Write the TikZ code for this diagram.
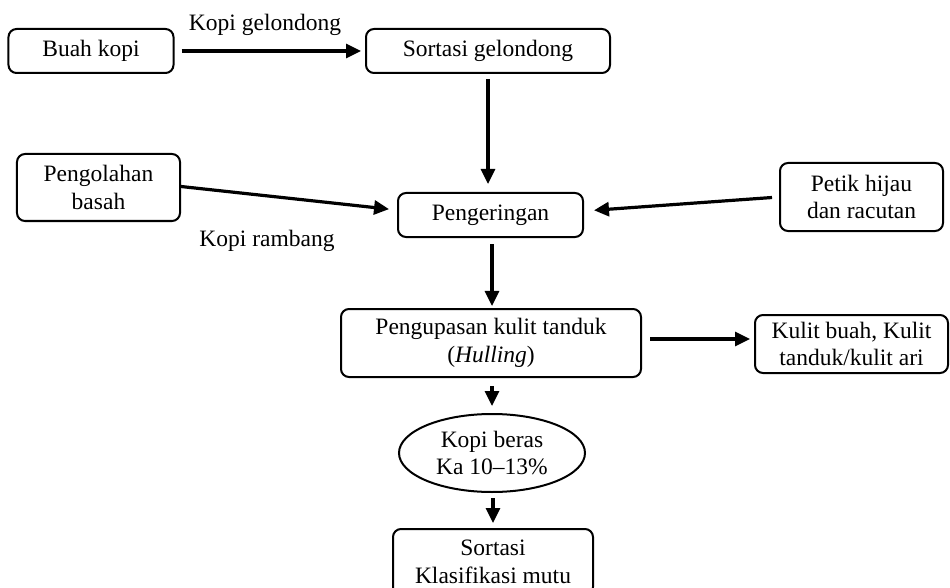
\documentclass[tikz,border=0pt]{standalone}
\usepackage{fontspec}
\setmainfont{Liberation Serif}
\usetikzlibrary{arrows.meta,shapes.geometric,calc}
\begin{document}
\begin{tikzpicture}[x=1bp,y=-1bp,
  every node/.style={font=\fontsize{23.5bp}{27.5bp}\selectfont, inner sep=0pt},
  box/.style={draw, line width=2bp, rounded corners=8bp, align=center, minimum width=#1},
  oval/.style={draw, line width=2bp, ellipse, align=center},
  lbl/.style={anchor=base},
  arr/.style={line width=3.2bp, -{Triangle[length=15bp,width=14bp]}}]
\clip (0,0) rectangle (950,588);
\node[box=165bp, minimum height=44bp] (buah) at (91,51) {Buah kopi};
\node[box=244bp, minimum height=44bp] (sortg) at (488,51) {Sortasi gelondong};
\node[box=163bp, minimum height=67bp] (olah) at (98.5,187.5) {Pengolahan\\basah};
\node[box=185bp, minimum height=44bp] (kering) at (490.5,215) {Pengeringan};
\node[box=163bp, minimum height=68bp] (petik) at (861.5,197) {Petik hijau\\dan racutan};
\node[box=300bp, minimum height=68bp] (kupas) at (491,343) {Pengupasan kulit tanduk\\(\textit{Hulling})};
\node[box=193bp, minimum height=58bp] (kulit) at (851.5,344) {Kulit buah, Kulit\\tanduk/kulit ari};
\node[oval, minimum width=186bp, minimum height=78bp] (beras) at (492,453) {Kopi beras\\Ka 10--13\%};
\node[box=200bp, minimum height=66bp] (mutu) at (493,562) {Sortasi\\Klasifikasi mutu};
\node[lbl] (l1) at (265,31) {Kopi gelondong};
\node[lbl] (l2) at (267,247) {Kopi rambang};
\draw[arr, shorten <=7bp, shorten >=4bp] (buah.east) -- (sortg.west);
\draw[arr, shorten <=5bp, shorten >=8bp] (sortg.south) -- (sortg.south |- kering.north);
\draw[arr, shorten >=8bp] ([yshift=1bp]olah.east) -- ([yshift=5bp]kering.west);
\draw[arr, shorten <=7bp, shorten >=10bp] (petik.west) -- ([yshift=4bp]kering.east);
\draw[arr, shorten <=6bp, shorten >=2bp] ([xshift=1.5bp]kering.south) -- ([xshift=1.5bp]kering.south |- kupas.north);
\draw[arr, shorten <=8bp, shorten >=4bp] ([yshift=4bp]kupas.east) -- ([yshift=4bp]kupas.east -| kulit.west);
\draw[arr, shorten <=8bp, shorten >=7bp] ([xshift=1bp]kupas.south) -- ([xshift=1bp]kupas.south |- beras.north);
\draw[arr, shorten <=5bp, shorten >=5bp] ([xshift=1bp]beras.south) -- ([xshift=1bp]beras.south |- mutu.north);
\end{tikzpicture}
\end{document}
